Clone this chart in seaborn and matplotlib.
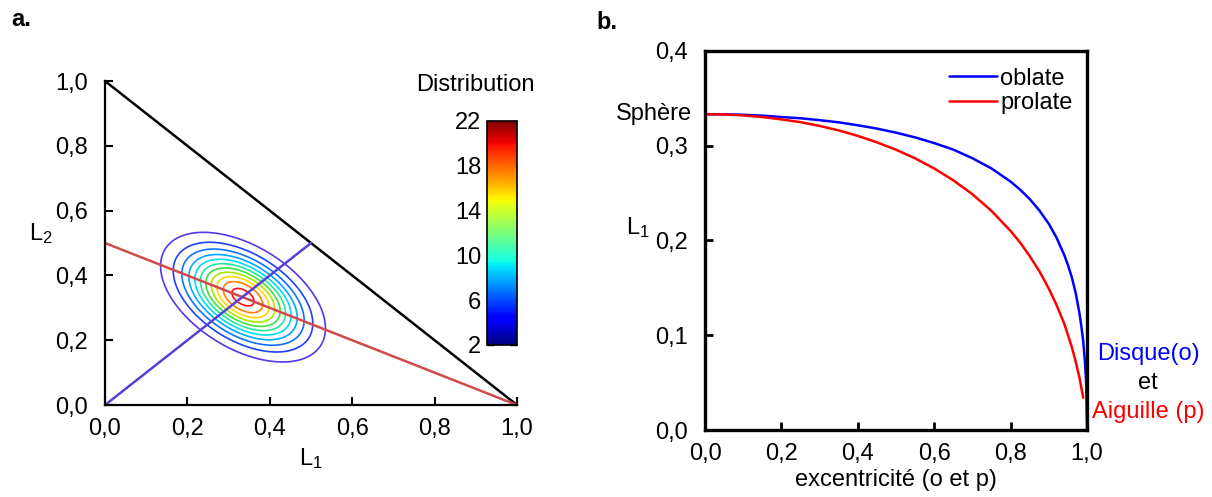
import numpy as np
import pandas as pd
import matplotlib
matplotlib.use("Agg")
import matplotlib.pyplot as plt
from matplotlib.ticker import FuncFormatter, MultipleLocator
import matplotlib.colors as mcolors
import seaborn as sns

sns.set_style("ticks")
plt.rcParams['font.family'] = ['Liberation Sans', 'DejaVu Sans']
plt.rcParams['mathtext.default'] = 'regular'
for k in ['text.color', 'axes.labelcolor', 'xtick.color', 'ytick.color', 'axes.edgecolor']:
    plt.rcParams[k] = 'black'
FS = 17

# ---------------- data ----------------
# panel a: distribution parameters
dist_center = [0.335, 0.333]
dist_sigma = [0.0905, 0.0905]
dist_rho = -0.48
dist_peak = 23.0
contour_levels = [2, 4, 6, 8, 10, 12, 14, 16, 18, 20, 22]
contour_colors = ['#5a35e8', '#2040ff', '#1070ff', '#00a8ff', '#00dcf0', '#20e8a0',
                  '#40e040', '#a8e800', '#ffd800', '#ff8000', '#ff1010']
cbar_ticks = [2, 6, 10, 14, 18, 22]
ticks_a = [0.0, 0.2, 0.4, 0.6, 0.8, 1.0]

# panel b: curves
ecc_oblate = [0.0, 0.05, 0.1, 0.15, 0.2, 0.25, 0.3, 0.35, 0.4, 0.45, 0.5, 0.55, 0.6, 0.65, 0.7,
              0.75, 0.8, 0.825, 0.85, 0.875, 0.9, 0.92, 0.94, 0.95, 0.96, 0.97, 0.98, 0.985,
              0.99, 0.995, 0.998, 1.0]
L1_oblate = [0.3333, 0.3332, 0.3327, 0.3318, 0.3303, 0.3290, 0.3270, 0.3247, 0.3216, 0.3181,
             0.3138, 0.3088, 0.3028, 0.2959, 0.2868, 0.2760, 0.2621, 0.2536, 0.2437, 0.2318,
             0.2175, 0.2031, 0.1850, 0.1742, 0.1613, 0.1451, 0.1236, 0.1098, 0.0937, 0.0695,
             0.0460, 0.0]
ecc_prolate = [0.0, 0.05, 0.1, 0.15, 0.2, 0.25, 0.3, 0.35, 0.4, 0.45, 0.5, 0.55, 0.6, 0.65, 0.7,
               0.75, 0.8, 0.825, 0.85, 0.875, 0.9, 0.92, 0.94, 0.95, 0.96, 0.97, 0.98, 0.99]
L1_prolate = [0.3333, 0.3330, 0.3320, 0.3303, 0.3278, 0.3249, 0.3209, 0.3162, 0.3104, 0.3036,
              0.2958, 0.2867, 0.2760, 0.2635, 0.2488, 0.2312, 0.2100, 0.1977, 0.1835, 0.1677,
              0.1491, 0.1321, 0.1126, 0.1003, 0.0877, 0.0727, 0.0556, 0.0340]
ticks_bx = [0.0, 0.2, 0.4, 0.6, 0.8, 1.0]
ticks_by = [0.0, 0.1, 0.2, 0.3, 0.4]

comma1 = FuncFormatter(lambda v, p: f"{v:.1f}".replace('.', ','))

fig = plt.figure(figsize=(12.12, 4.97), dpi=100)

# ---------------- panel a ----------------
axa = fig.add_axes([0.0866, 0.185, 0.34, 0.652])
gx = np.linspace(0, 1, 400)
X, Y = np.meshgrid(gx, gx)
dx = (X - dist_center[0]) / dist_sigma[0]
dy = (Y - dist_center[1]) / dist_sigma[1]
q = (dx**2 - 2 * dist_rho * dx * dy + dy**2) / (1 - dist_rho**2)
Z = dist_peak * np.exp(-0.5 * q)
axa.contour(X, Y, Z, levels=contour_levels, colors=contour_colors, linewidths=1.2)

tri = pd.DataFrame({'x': [0.0, 1.0], 'y': [1.0, 0.0]})
red = pd.DataFrame({'x': [0.0, 1.0], 'y': [0.5, 0.0]})
blu = pd.DataFrame({'x': [0.0, 0.5], 'y': [0.0, 0.5]})
sns.lineplot(data=tri, x='x', y='y', ax=axa, color='black', linewidth=1.8, clip_on=False)
sns.lineplot(data=red, x='x', y='y', ax=axa, color='#d04a4a', linewidth=1.8, clip_on=False)
sns.lineplot(data=blu, x='x', y='y', ax=axa, color='#5540d8', linewidth=1.8, clip_on=False)

axa.set_xlim(0, 1)
axa.set_ylim(0, 1)
axa.set_xticks(ticks_a)
axa.set_yticks(ticks_a)
axa.xaxis.set_major_formatter(comma1)
axa.yaxis.set_major_formatter(comma1)
axa.tick_params(direction='in', length=6, width=1.5, labelsize=FS)
axa.tick_params(axis='x', pad=9)
axa.tick_params(axis='y', pad=12)
for s in ['top', 'right']:
    axa.spines[s].set_visible(False)
for s in ['left', 'bottom']:
    axa.spines[s].set_linewidth(1.6)
axa.set_xlabel('L$_1$', fontsize=FS, labelpad=5)
axa.set_ylabel('L$_2$', fontsize=FS, rotation=0, labelpad=0)
axa.yaxis.set_label_coords(-0.155, 0.49)
axa.set_facecolor('none')

# colorbar
cax = fig.add_axes([0.4018, 0.306, 0.0248, 0.451])
sm = plt.cm.ScalarMappable(norm=mcolors.Normalize(2, 22), cmap='jet')
cb = fig.colorbar(sm, cax=cax)
cb.set_ticks(cbar_ticks)
cax.yaxis.set_minor_locator(MultipleLocator(2))
cax.yaxis.set_ticks_position('left')
cax.tick_params(which='both', direction='in', length=5, width=1, left=True, right=True,
                labelleft=True, labelright=False, labelsize=FS, pad=4)
cb.outline.set_linewidth(1.2)
fig.text(0.3925, 0.828, 'Distribution', fontsize=FS, ha='center', va='center')

# ---------------- panel b ----------------
axb = fig.add_axes([0.5817, 0.1348, 0.3152, 0.7626])
dob = pd.DataFrame({'e': ecc_oblate, 'L': L1_oblate})
dpr = pd.DataFrame({'e': ecc_prolate, 'L': L1_prolate})
sns.lineplot(data=dob, x='e', y='L', ax=axb, color='#0000ff', linewidth=1.8, label='oblate', sort=False)
sns.lineplot(data=dpr, x='e', y='L', ax=axb, color='#ff0000', linewidth=1.8, label='prolate', sort=False)
axb.set_xlim(0, 1)
axb.set_ylim(0, 0.4)
axb.set_xticks(ticks_bx)
axb.set_yticks(ticks_by)
axb.xaxis.set_major_formatter(comma1)
axb.yaxis.set_major_formatter(comma1)
axb.tick_params(direction='in', length=6, width=2, labelsize=FS)
axb.tick_params(axis='x', pad=9)
axb.tick_params(axis='y', pad=12)
for s in axb.spines.values():
    s.set_linewidth(2.4)
axb.set_xlabel('excentricité (o et p)', fontsize=FS, labelpad=3)
axb.set_ylabel('L$_1$', fontsize=FS, rotation=0)
axb.yaxis.set_label_coords(-0.175, 0.5)
leg = axb.legend(loc='upper right', frameon=False, fontsize=FS, handlelength=2.0,
                 handletextpad=0.15, labelspacing=0.1, borderaxespad=0.3,
                 bbox_to_anchor=(1.005, 1.0))
axb.text(-0.035, 1 / 3, 'Sphère', transform=axb.get_yaxis_transform(), ha='right', va='center',
         fontsize=FS)
axb.text(1.16, 0.2, 'Disque(o)', transform=axb.transAxes, ha='center', va='center', fontsize=FS,
         color='#0000ff')
axb.text(1.16, 0.125, 'et', transform=axb.transAxes, ha='center', va='center', fontsize=FS,
         color='black')
axb.text(1.16, 0.048, 'Aiguille (p)', transform=axb.transAxes, ha='center', va='center', fontsize=FS,
         color='#ff0000')

fig.text(0.009, 0.96, 'a.', fontsize=FS, fontweight='bold', va='center')
fig.text(0.492, 0.955, 'b.', fontsize=FS, fontweight='bold', va='center')

fig.savefig('out.png', dpi=100)
